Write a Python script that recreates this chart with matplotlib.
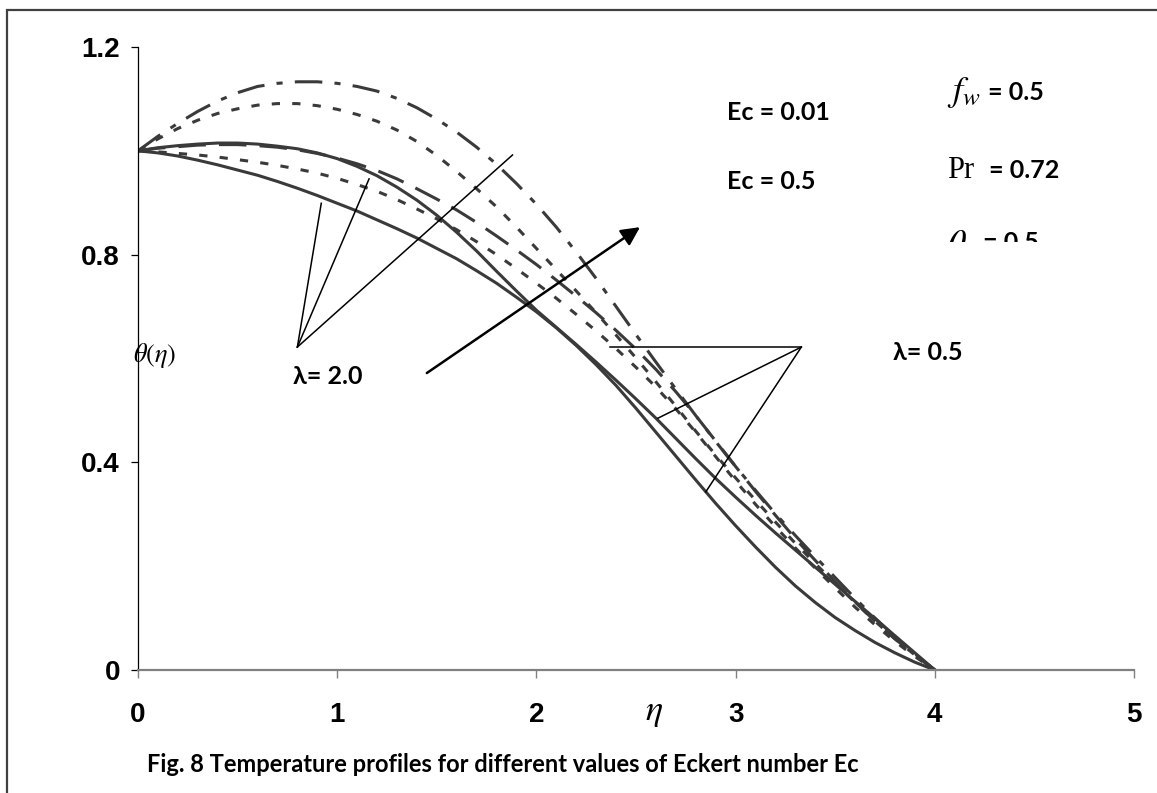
import numpy as np
import matplotlib
matplotlib.use("Agg")
import matplotlib.pyplot as plt
from matplotlib.patches import Rectangle
from matplotlib.transforms import Bbox, TransformedBbox

plt.rcParams['mathtext.fontset'] = 'stix'

# data #######################################################################
eta = [0.0, 0.1, 0.2, 0.3, 0.4, 0.5, 0.6, 0.7, 0.8, 0.9,
       1.0, 1.1, 1.2, 1.3, 1.4, 1.5, 1.6, 1.7, 1.8, 1.9,
       2.0, 2.1, 2.2, 2.3, 2.4, 2.5, 2.6, 2.7, 2.8, 2.9,
       3.0, 3.1, 3.2, 3.3, 3.4, 3.5, 3.6, 3.7, 3.8, 3.9, 4.0]

# lambda = 0.5
theta_l05_ec001 = [1.000, 1.006, 1.010, 1.013, 1.015, 1.015, 1.013, 1.009, 1.004, 0.996,
                   0.985, 0.970, 0.952, 0.930, 0.905, 0.876, 0.843, 0.807, 0.768, 0.730,
                   0.693, 0.660, 0.627, 0.593, 0.558, 0.522, 0.485, 0.446, 0.407, 0.369,
                   0.333, 0.298, 0.264, 0.231, 0.198, 0.165, 0.132, 0.099, 0.066, 0.033, 0.0]
theta_l05_ecmid = [1.000, 1.023, 1.043, 1.059, 1.072, 1.081, 1.088, 1.091, 1.091, 1.087,
                   1.080, 1.070, 1.057, 1.040, 1.018, 0.991, 0.960, 0.927, 0.892, 0.853,
                   0.812, 0.771, 0.730, 0.688, 0.645, 0.601, 0.555, 0.508, 0.460, 0.414,
                   0.370, 0.327, 0.285, 0.244, 0.205, 0.167, 0.130, 0.094, 0.060, 0.029, 0.0]
theta_l05_ec05 = [1.000, 1.028, 1.053, 1.076, 1.096, 1.112, 1.124, 1.130, 1.133, 1.133,
                  1.130, 1.124, 1.115, 1.101, 1.083, 1.061, 1.036, 1.007, 0.974, 0.937,
                  0.897, 0.853, 0.805, 0.754, 0.700, 0.646, 0.593, 0.541, 0.490, 0.440,
                  0.392, 0.346, 0.301, 0.259, 0.218, 0.178, 0.138, 0.100, 0.064, 0.031, 0.0]
# lambda = 2.0
theta_l20_ec001 = [1.000, 0.996, 0.990, 0.982, 0.973, 0.963, 0.953, 0.941, 0.928, 0.914,
                   0.899, 0.884, 0.867, 0.850, 0.832, 0.812, 0.792, 0.769, 0.745, 0.718,
                   0.690, 0.659, 0.625, 0.588, 0.548, 0.504, 0.458, 0.412, 0.366, 0.321,
                   0.278, 0.237, 0.198, 0.162, 0.130, 0.101, 0.076, 0.053, 0.033, 0.015, 0.0]
theta_l20_ecmid = [1.000, 0.998, 0.995, 0.992, 0.988, 0.983, 0.978, 0.972, 0.965, 0.957,
                   0.947, 0.935, 0.922, 0.906, 0.888, 0.869, 0.848, 0.825, 0.800, 0.773,
                   0.745, 0.716, 0.685, 0.653, 0.619, 0.583, 0.545, 0.503, 0.458, 0.411,
                   0.364, 0.319, 0.276, 0.235, 0.196, 0.158, 0.121, 0.087, 0.055, 0.026, 0.0]
theta_l20_ec05 = [1.000, 1.005, 1.008, 1.011, 1.012, 1.012, 1.010, 1.007, 1.002, 0.995,
                  0.986, 0.975, 0.962, 0.946, 0.927, 0.907, 0.886, 0.862, 0.836, 0.809,
                  0.781, 0.751, 0.720, 0.688, 0.654, 0.618, 0.579, 0.536, 0.490, 0.441,
                  0.392, 0.344, 0.298, 0.253, 0.211, 0.170, 0.131, 0.094, 0.060, 0.029, 0.0]

xticks = [0, 1, 2, 3, 4, 5]
yticks = [0, 0.4, 0.8, 1.2]
yticklabels = ['0', '0.4', '0.8', '1.2']

# figure #####################################################################
W, H = 1157, 793
fig = plt.figure(figsize=(W / 100, H / 100), dpi=100)
ax = fig.add_axes([138 / W, 1 - 670 / H, (1134 - 138) / W, (670 - 47) / H])

curve_col = '#3a3a3a'
lw = 2.2
ax.plot(eta, theta_l20_ec001, color=curve_col, lw=lw, ls='-')
ax.plot(eta, theta_l05_ec001, color=curve_col, lw=lw, ls='-')
ax.plot(eta, theta_l20_ecmid, color=curve_col, lw=lw, ls=(0, (2.7, 4)))
ax.plot(eta, theta_l05_ecmid, color=curve_col, lw=lw, ls=(0, (2.7, 4)))
ax.plot(eta, theta_l20_ec05, color=curve_col, lw=lw, ls=(0, (9, 4.3)))
ax.plot(eta, theta_l05_ec05, color=curve_col, lw=lw, ls=(0, (9, 4, 2, 4)))

ax.set_xlim(0, 5)
ax.set_ylim(0, 1.2)
ax.set_xticks(xticks)
ax.set_yticks(yticks)
ax.set_xticklabels([str(v) for v in xticks])
ax.set_yticklabels(yticklabels)
for s in ['top', 'right']:
    ax.spines[s].set_visible(False)
ax.spines['left'].set_color('black')
ax.spines['left'].set_linewidth(0.9)
ax.spines['bottom'].set_color('#808080')
ax.spines['bottom'].set_linewidth(1.6)
ax.tick_params(axis='y', length=5, width=0.9, color='black', pad=8)
ax.tick_params(axis='x', length=6, width=1.0, color='#808080', pad=17)
for lab in ax.get_xticklabels() + ax.get_yticklabels():
    lab.set_fontfamily('Liberation Sans')
    lab.set_fontweight('bold')
    lab.set_fontsize(20)

# pointer lines ##############################################################
l20_from = (0.80, 0.622)
l20_to = [(0.92, 0.899), (1.16, 0.946), (1.88, 0.992)]
l05_from = (3.33, 0.622)
l05_to = [(2.37, 0.622), (2.61, 0.485), (2.85, 0.343)]
for p in l20_to:
    ax.plot([l20_from[0], p[0]], [l20_from[1], p[1]], color='black', lw=1.1)
for p in l05_to:
    ax.plot([l05_from[0], p[0]], [l05_from[1], p[1]], color='black', lw=1.1)

ax.annotate('', xy=(2.52, 0.853), xytext=(1.45, 0.572),
            arrowprops=dict(arrowstyle='-|>', lw=1.8, color='black',
                            mutation_scale=28, shrinkA=0, shrinkB=0))

# texts ######################################################################
bold = dict(fontfamily='Lato', fontweight='bold', fontsize=18, va='center', ha='left')
ax.text(2.957, 1.073, 'Ec = 0.01', **bold)
ax.text(2.957, 0.940, 'Ec = 0.5', **bold)
ax.text(0.778, 0.566, 'λ= 2.0', **bold)
ax.text(3.79, 0.612, 'λ= 0.5', **bold)


def px(x, y):
    return x / W, 1 - y / H


fig.text(*px(947, 93), r'$f_w$', fontsize=26, va='center', ha='left')
fig.text(*px(988, 93), '= 0.5', **bold)
fig.text(*px(947, 170), 'Pr', fontfamily='Liberation Serif', fontsize=22, va='center', ha='left')
fig.text(*px(989, 170), '= 0.72', **bold)

clip = TransformedBbox(Bbox([[900 / W, 1 - 242 / H], [1100 / W, 1 - 200 / H]]), fig.transFigure)
t1 = fig.text(*px(947, 245), r'$\theta_w$', fontsize=26, va='center', ha='left')
t2 = fig.text(*px(983, 242), '= 0.5', **bold)
for t in (t1, t2):
    t.set_clip_box(clip)
    t.set_clip_on(True)

fig.text(*px(155, 355), r'$\theta(\eta)$', fontsize=19, va='center', ha='center')
fig.text(*px(654, 712), r'$\eta$', fontsize=26, va='center', ha='center')

fig.text(*px(147, 765), 'Fig. 8 Temperature profiles for different values of Eckert number Ec',
         fontfamily='Lato', fontweight='bold', fontsize=17, va='center', ha='left')

# outer frame
fig.patches.append(Rectangle((7 / W, -0.2), 1.5, 1.2 - 10 / H, transform=fig.transFigure,
                             fill=False, edgecolor='#404040', lw=1.6))

fig.savefig('out.png', dpi=100)
